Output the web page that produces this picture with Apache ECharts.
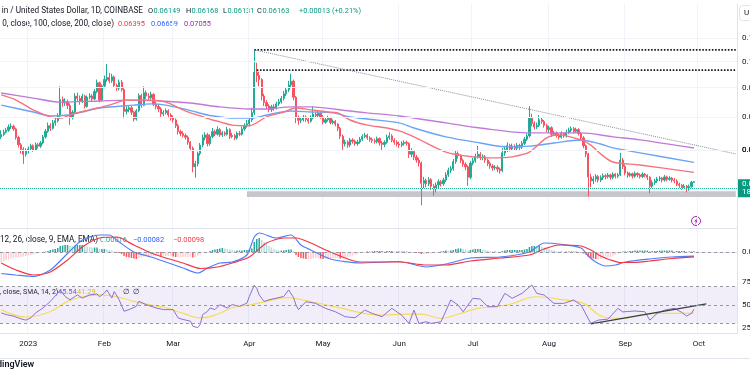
<!DOCTYPE html>
<html>
<head>
<meta charset="utf-8">
<script src="https://cdn.jsdelivr.net/npm/echarts@6/dist/echarts.min.js"></script>
<style>
html, body { margin: 0; padding: 0; background: #fff; }
#chart { width: 750px; height: 375px; }
</style>
</head>
<body>
<div id="chart"></div>
<script>
// daily candles, 21 Dec 2022 .. 29 Sep 2023 (open = previous close)
const firstOpen = 0.0738
const closes = [
  0.0745,0.0752,0.0758,0.0768,0.0770,0.0762,0.0736,0.0715,0.0702,0.0688,0.0698,
  0.0703,0.0712,0.0700,0.0715,0.0711,0.0720,0.0738,0.0755,0.0772,0.0764,0.0781,0.0788,0.0803,0.0858,0.0846,0.0850,0.0838,0.0798,0.0815,0.0870,0.0862,0.0852,0.0870,0.0834,0.0866,0.0870,0.0860,0.0886,0.0918,0.0856,0.0906,
  0.0930,0.0938,0.0925,0.0940,0.0908,0.0898,0.0920,0.0893,0.0818,0.0824,0.0830,0.0815,0.0793,0.0820,0.0872,0.0838,0.0882,0.0870,0.0864,0.0876,0.0842,0.0834,0.0826,0.0810,0.0814,0.0820,0.0806,0.0796,
  0.0790,0.0772,0.0754,0.0748,0.0742,0.0737,0.0722,0.0705,0.0654,0.0662,0.0690,0.0714,0.0736,0.0744,0.0718,0.0739,0.0754,0.0746,0.0760,0.0744,0.0750,0.0746,0.0760,0.0739,0.0742,0.0735,0.0748,0.0746,0.0762,0.0772,0.0778,
  0.0790,0.0814,0.0958,0.0945,0.0930,0.0870,0.0848,0.0836,0.0824,0.0833,0.0829,0.0843,0.0850,0.0862,0.0878,0.0892,0.0910,0.0924,0.0866,0.0798,0.0789,0.0791,0.0799,0.0792,0.0786,0.0796,0.0809,0.0804,0.0812,0.0800,
  0.0783,0.0791,0.0796,0.0782,0.0786,0.0777,0.0764,0.0740,0.0718,0.0723,0.0714,0.0729,0.0725,0.0718,0.0723,0.0731,0.0739,0.0743,0.0735,0.0730,0.0727,0.0724,0.0733,0.0720,0.0716,0.0722,0.0736,0.0741,0.0728,0.0722,0.0717,
  0.0714,0.0719,0.0722,0.0719,0.0688,0.0696,0.0680,0.0672,0.0664,0.0612,0.0619,0.0611,0.0621,0.0605,0.0598,0.0608,0.0616,0.0611,0.0620,0.0633,0.0645,0.0649,0.0668,0.0690,0.0684,0.0671,0.0661,0.0654,0.0627,0.0664,
  0.0670,0.0682,0.0688,0.0679,0.0681,0.0672,0.0663,0.0656,0.0651,0.0653,0.0648,0.0644,0.0692,0.0701,0.0713,0.0703,0.0711,0.0705,0.0713,0.0708,0.0719,0.0731,0.0741,0.0796,0.0779,0.0768,0.0773,0.0791,0.0785,0.0773,0.0760,
  0.0766,0.0746,0.0749,0.0742,0.0737,0.0748,0.0741,0.0752,0.0758,0.0763,0.0755,0.0760,0.0748,0.0735,0.0712,0.0689,0.0628,0.0618,0.0623,0.0629,0.0620,0.0626,0.0631,0.0629,0.0633,0.0627,0.0635,0.0630,0.0633,0.0672,0.0655,
  0.0638,0.0632,0.0636,0.0630,0.0637,0.0633,0.0629,0.0635,0.0632,0.0627,0.0605,0.0614,0.0618,0.0623,0.0625,0.0620,0.0628,0.0622,0.0625,0.0620,0.0618,0.0610,0.0607,0.0602,0.0605,0.0598,0.0604,0.06149,0.06163
]
const highs = [
  0.0758,0.0760,0.0765,0.0776,0.0779,0.0775,0.0766,0.0741,0.0720,0.0708,0.0705,
  0.0710,0.0718,0.0716,0.0722,0.0720,0.0726,0.0744,0.0762,0.0782,0.0780,0.0790,0.0796,0.0812,0.0905,0.0868,0.0862,0.0858,0.0845,0.0822,0.0880,0.0882,0.0872,0.0878,0.0875,0.0872,0.0880,0.0877,0.0895,0.0930,0.0922,0.0912,
  0.0945,0.0990,0.0955,0.0952,0.0945,0.0915,0.0930,0.0928,0.0898,0.0835,0.0838,0.0836,0.0820,0.0826,0.0880,0.0878,0.0905,0.0890,0.0880,0.0885,0.0880,0.0850,0.0842,0.0832,0.0822,0.0828,0.0825,0.0812,
  0.0805,0.0795,0.0778,0.0760,0.0755,0.0748,0.0742,0.0726,0.0710,0.0670,0.0695,0.0720,0.0745,0.0752,0.0750,0.0746,0.0765,0.0760,0.0770,0.0765,0.0756,0.0755,0.0768,0.0764,0.0750,0.0747,0.0754,0.0756,0.0770,0.0780,0.0790,
  0.0800,0.0830,0.1048,0.0995,0.0960,0.0935,0.0878,0.0856,0.0842,0.0840,0.0842,0.0850,0.0860,0.0870,0.0888,0.0900,0.0925,0.0952,0.0930,0.0870,0.0805,0.0800,0.0806,0.0805,0.0798,0.0805,0.0835,0.0818,0.0820,0.0818,
  0.0806,0.0798,0.0804,0.0800,0.0792,0.0790,0.0780,0.0768,0.0745,0.0730,0.0728,0.0735,0.0734,0.0730,0.0729,0.0738,0.0746,0.0750,0.0748,0.0740,0.0736,0.0733,0.0739,0.0736,0.0726,0.0728,0.0745,0.0752,0.0746,0.0734,0.0728,
  0.0724,0.0725,0.0728,0.0727,0.0722,0.0705,0.0700,0.0686,0.0678,0.0668,0.0628,0.0624,0.0628,0.0625,0.0610,0.0614,0.0622,0.0620,0.0626,0.0640,0.0652,0.0656,0.0675,0.0700,0.0696,0.0688,0.0676,0.0666,0.0658,0.0670,
  0.0678,0.0690,0.0712,0.0694,0.0688,0.0686,0.0676,0.0668,0.0661,0.0659,0.0658,0.0652,0.0706,0.0712,0.0722,0.0718,0.0718,0.0716,0.0720,0.0718,0.0726,0.0738,0.0748,0.0835,0.0810,0.0786,0.0782,0.0806,0.0798,0.0790,0.0778,
  0.0772,0.0770,0.0756,0.0754,0.0748,0.0755,0.0752,0.0760,0.0766,0.0770,0.0768,0.0766,0.0764,0.0752,0.0740,0.0716,0.0692,0.0636,0.0630,0.0635,0.0633,0.0632,0.0637,0.0635,0.0638,0.0636,0.0640,0.0638,0.0638,0.0692,0.0678,
  0.0660,0.0642,0.0640,0.0639,0.0642,0.0640,0.0637,0.0640,0.0638,0.0635,0.0630,0.0620,0.0623,0.0628,0.0630,0.0628,0.0633,0.0631,0.0630,0.0628,0.0625,0.0622,0.0614,0.0611,0.0610,0.0608,0.0609,0.0618,0.06168
]
const lows = [
  0.0732,0.0740,0.0748,0.0753,0.0762,0.0756,0.0730,0.0707,0.0690,0.0662,0.0682,
  0.0690,0.0698,0.0695,0.0697,0.0704,0.0706,0.0716,0.0733,0.0750,0.0756,0.0760,0.0772,0.0782,0.0800,0.0832,0.0836,0.0826,0.0775,0.0792,0.0810,0.0852,0.0840,0.0846,0.0828,0.0830,0.0858,0.0852,0.0856,0.0880,0.0848,0.0850,
  0.0898,0.0922,0.0916,0.0918,0.0900,0.0888,0.0890,0.0886,0.0795,0.0808,0.0815,0.0806,0.0785,0.0788,0.0815,0.0830,0.0835,0.0860,0.0855,0.0858,0.0835,0.0825,0.0815,0.0800,0.0802,0.0808,0.0798,0.0788,
  0.0782,0.0765,0.0745,0.0740,0.0736,0.0730,0.0715,0.0698,0.0640,0.0626,0.0655,0.0684,0.0708,0.0728,0.0710,0.0712,0.0734,0.0740,0.0742,0.0738,0.0738,0.0740,0.0742,0.0732,0.0734,0.0728,0.0730,0.0740,0.0742,0.0756,0.0766,
  0.0770,0.0784,0.0806,0.0920,0.0905,0.0855,0.0836,0.0825,0.0815,0.0816,0.0820,0.0824,0.0836,0.0844,0.0855,0.0870,0.0884,0.0902,0.0855,0.0780,0.0775,0.0780,0.0785,0.0784,0.0778,0.0782,0.0792,0.0796,0.0798,0.0794,
  0.0776,0.0778,0.0785,0.0776,0.0776,0.0770,0.0755,0.0732,0.0700,0.0710,0.0706,0.0708,0.0718,0.0712,0.0712,0.0718,0.0726,0.0734,0.0729,0.0724,0.0720,0.0718,0.0719,0.0712,0.0700,0.0708,0.0718,0.0730,0.0722,0.0715,0.0710,
  0.0706,0.0708,0.0712,0.0712,0.0678,0.0680,0.0672,0.0665,0.0655,0.0560,0.0600,0.0602,0.0605,0.0596,0.0582,0.0590,0.0600,0.0604,0.0606,0.0615,0.0628,0.0638,0.0644,0.0662,0.0676,0.0664,0.0654,0.0645,0.0606,0.0622,
  0.0658,0.0665,0.0676,0.0672,0.0672,0.0665,0.0656,0.0649,0.0644,0.0645,0.0640,0.0636,0.0640,0.0684,0.0694,0.0696,0.0698,0.0698,0.0700,0.0700,0.0703,0.0714,0.0726,0.0736,0.0770,0.0760,0.0762,0.0768,0.0778,0.0766,0.0752,
  0.0750,0.0738,0.0740,0.0736,0.0730,0.0733,0.0735,0.0736,0.0746,0.0752,0.0748,0.0750,0.0742,0.0728,0.0705,0.0680,0.0580,0.0602,0.0610,0.0616,0.0614,0.0615,0.0620,0.0622,0.0624,0.0621,0.0622,0.0624,0.0625,0.0630,0.0648,
  0.0632,0.0626,0.0628,0.0624,0.0626,0.0627,0.0624,0.0625,0.0627,0.0620,0.0588,0.0600,0.0608,0.0613,0.0617,0.0614,0.0616,0.0617,0.0618,0.0614,0.0612,0.0605,0.0601,0.0596,0.0598,0.0590,0.0594,0.0601,0.06131
]

// moving averages, [day index, value]
const ma50 = [[0,0.0874],[6,0.0856],[13,0.0823],[20,0.0800],[24,0.0796],[29,0.0809],[36,0.0823],[44,0.0839],[51,0.0856],[61,0.0856],[67,0.0849],[76,0.0816],[81,0.0803],[86,0.0790],[89,0.0784],[94,0.0774],[101,0.0772],[108,0.0800],[115,0.0816],[120,0.0829],[126,0.0823],[133,0.0816],[137,0.0813],[142,0.0790],[149,0.0774],[157,0.0765],[162,0.0756],[168,0.0738],[181,0.0694],[192,0.0681],[202,0.0678],[208,0.0681],[215,0.0694],[222,0.0735],[227,0.0744],[236,0.0729],[240,0.0714],[244,0.0689],[249,0.0667],[260,0.0659],[282,0.06395]]
const ma100 = [[0,0.0839],[13,0.0816],[20,0.0803],[27,0.0806],[33,0.0816],[40,0.0829],[54,0.0839],[61,0.0843],[67,0.0839],[76,0.0823],[84,0.0806],[89,0.0800],[94,0.0796],[102,0.0796],[108,0.0806],[118,0.0819],[126,0.0816],[135,0.0813],[142,0.0800],[149,0.0793],[162,0.0781],[168,0.0765],[181,0.0738],[195,0.0720],[206,0.0709],[215,0.0711],[225,0.0720],[236,0.0729],[244,0.0717],[249,0.0706],[260,0.0692],[282,0.06659]]
const ma200 = [[0,0.0881],[13,0.0863],[24,0.0849],[40,0.0853],[51,0.0856],[65,0.0853],[77,0.0846],[89,0.0833],[101,0.0826],[108,0.0826],[118,0.0833],[126,0.0833],[142,0.0819],[149,0.0813],[162,0.0803],[181,0.0781],[195,0.0765],[215,0.0750],[236,0.0750],[249,0.0738],[260,0.0729],[282,0.07055]]

// MACD 12 26 9
const macdLine = [[0,-0.0043],[6,-0.0046],[13,-0.0049],[20,-0.0036],[27,-0.0003],[33,0.0024],[40,0.0034],[44,0.0034],[48,0.0020],[54,0.0000],[61,-0.0010],[67,-0.0020],[74,-0.0032],[80,-0.0042],[84,-0.0032],[89,-0.0022],[94,-0.0020],[100,-0.0006],[103,0.0030],[105,0.0038],[112,0.0028],[118,0.0034],[122,0.0014],[126,0.0004],[134,-0.0014],[146,-0.0022],[162,-0.0019],[173,-0.0030],[181,-0.0024],[191,-0.0012],[203,-0.0010],[215,0.0000],[221,0.0018],[227,0.0016],[236,0.0008],[239,-0.0008],[242,-0.0020],[246,-0.0028],[250,-0.0026],[254,-0.0020],[264,-0.0014],[273,-0.0010],[282,-0.00082]]
const signalLine = [[0,-0.0022],[6,-0.0036],[13,-0.0046],[20,-0.0040],[27,-0.0016],[33,0.0010],[40,0.0028],[47,0.0030],[54,0.0014],[61,-0.0002],[67,-0.0012],[74,-0.0022],[81,-0.0033],[88,-0.0030],[94,-0.0022],[101,-0.0010],[108,0.0018],[115,0.0028],[120,0.0028],[126,0.0018],[134,0.0000],[146,-0.0020],[162,-0.0020],[173,-0.0026],[181,-0.0026],[191,-0.0018],[203,-0.0012],[215,-0.0006],[221,0.0006],[227,0.0014],[236,0.0012],[240,0.0004],[244,-0.0008],[248,-0.0016],[252,-0.0021],[258,-0.0021],[264,-0.0018],[273,-0.0013],[282,-0.00098]]
const macdHist = [
  -0.0020,-0.0019,-0.0017,-0.0015,-0.0013,-0.0012,-0.0011,-0.0010,-0.0010,-0.0009,-0.0008,
  -0.0007,-0.0006,-0.0005,-0.0004,-0.0002,-0.0001,0.0000,0.0001,0.0002,0.0004,
  0.0005,0.0006,0.0008,0.0012,0.0013,0.0014,0.0014,0.0012,0.0011,0.0013,
  0.0014,0.0014,0.0014,0.0012,0.0011,0.0010,0.0009,0.0009,0.0009,0.0006,0.0006,
  0.0006,0.0005,0.0004,0.0003,0.0001,-0.0001,-0.0002,-0.0004,-0.0008,
  -0.0010,-0.0011,-0.0012,-0.0013,-0.0014,-0.0012,-0.0011,-0.0009,-0.0008,-0.0008,
  -0.0008,-0.0008,-0.0008,-0.0008,-0.0009,-0.0009,-0.0008,-0.0008,-0.0008,
  -0.0009,-0.0010,-0.0010,-0.0010,-0.0010,-0.0010,-0.0010,-0.0010,-0.0011,-0.0010,-0.0008,
  -0.0005,-0.0002,0.0000,0.0000,0.0002,0.0004,0.0005,0.0006,0.0007,0.0008,
  0.0007,0.0006,0.0005,0.0004,0.0003,0.0003,0.0003,0.0003,0.0004,0.0004,
  0.0005,0.0007,0.0020,0.0026,0.0028,0.0024,0.0020,0.0016,0.0012,0.0009,
  0.0006,0.0004,0.0003,0.0003,0.0003,0.0004,0.0005,0.0005,0.0002,-0.0006,
  -0.0010,-0.0012,-0.0013,-0.0014,-0.0014,-0.0014,-0.0013,-0.0012,-0.0012,-0.0013,
  -0.0014,-0.0014,-0.0013,-0.0013,-0.0012,-0.0012,-0.0012,-0.0013,-0.0013,-0.0012,-0.0011,
  -0.0009,-0.0007,-0.0005,-0.0004,-0.0002,-0.0001,0.0000,0.0001,0.0001,0.0001,
  0.0002,0.0002,0.0002,0.0002,0.0001,0.0002,0.0002,0.0002,0.0001,0.0001,
  0.0001,0.0001,0.0001,0.0001,0.0000,0.0000,-0.0001,-0.0001,-0.0002,-0.0004,
  -0.0004,-0.0004,-0.0003,-0.0003,-0.0002,-0.0001,0.0000,0.0001,0.0002,0.0003,
  0.0002,0.0003,0.0004,0.0006,0.0007,0.0007,0.0006,0.0005,0.0003,0.0004,
  0.0005,0.0006,0.0006,0.0006,0.0005,0.0004,0.0003,0.0002,0.0001,0.0001,0.0000,
  0.0000,0.0002,0.0003,0.0004,0.0004,0.0004,0.0004,0.0004,0.0004,0.0004,
  0.0005,0.0006,0.0010,0.0012,0.0012,0.0011,0.0012,0.0011,0.0009,0.0007,
  0.0006,0.0004,0.0003,0.0002,0.0001,0.0001,0.0000,0.0001,0.0001,0.0001,0.0001,
  0.0001,0.0000,-0.0001,-0.0003,-0.0005,-0.0010,-0.0012,-0.0013,-0.0014,-0.0014,
  -0.0014,-0.0013,-0.0012,-0.0011,-0.0010,-0.0008,-0.0006,-0.0004,0.0000,0.0001,
  0.0001,0.0001,0.0002,0.0002,0.0003,0.0003,0.0003,0.0003,0.0003,0.0003,
  0.0002,0.0002,0.0002,0.0002,0.0003,0.0003,0.0003,0.0003,0.0003,0.0003,
  0.0002,0.0002,0.0002,0.0002,0.0002,0.0001,0.0001,0.0001,0.00016
]

// RSI 14 and its SMA 14
const rsi = [[0,41.4],[2,39.6],[5,37.9],[8,35],[10,33.6],[12,36],[14,41.4],[17,46.8],[20,53.9],[23,62.9],[24,66.4],[26,59.3],[28,55.7],[31,61],[33,57.5],[36,61],[39,62],[40,59],[42,63],[43,66.4],[45,57.5],[46,64.6],[48,55.7],[50,43.2],[52,45],[55,48.6],[56,54],[59,50.4],[63,46.8],[66,45],[70,45],[72,36],[74,34.3],[77,32.5],[78,27],[80,25.4],[81,28.9],[82,39.6],[84,43.2],[85,46.8],[87,45],[89,50.4],[92,46.8],[94,50.4],[97,48.6],[100,52],[101,59.3],[103,71.5],[104,68.2],[105,61],[107,53.9],[109,55.7],[112,57.5],[115,59.3],[117,66.4],[119,58],[120,50],[121,45],[124,53.6],[128,51.8],[132,46.4],[136,42.7],[140,37.3],[144,36.2],[148,44.5],[151,40.9],[155,37.3],[159,46.4],[163,39],[166,30],[168,44.5],[170,30],[173,31.8],[175,30],[179,31.8],[183,55.5],[186,50],[188,42.7],[192,57.3],[195,56.5],[198,48.2],[202,48.2],[205,62.7],[208,57.3],[212,62.7],[216,71.8],[218,62.7],[221,60.9],[225,51.8],[229,51.8],[233,55.5],[236,50],[240,30],[243,33.6],[247,34.7],[251,46.4],[253,42.5],[255,43],[258,43.5],[262,42.7],[264,33.6],[267,40.9],[270,44.5],[274,46.4],[277,42],[279,38],[281,41],[282,45.54]]
const rsiSma = [[0,45],[10,37],[20,43],[27,54],[33,59],[40,61],[47,59],[54,54],[61,50],[67,47],[74,41],[81,36],[88,40],[94,47],[101,50],[108,54],[116,58],[122,56],[136,48],[155,39],[165,40],[171,40],[179,35.5],[186,40],[194,46.4],[206,50],[218,59],[229,55.5],[237,51.8],[245,37.3],[253,35.5],[262,40],[272,41],[282,41.29]]
const rsiTrend = [[240,29.5],[287,51.2]]

// drawings on the price pane
const topLevel = 0.1048
const secondLevel = 0.0966
const priceTrend = [[103,0.1048],[299,0.0689]]
const supportBand = [0.0579, 0.0593]
const priceTicks = [0.11, 0.10, 0.09, 0.08, 0.07, 0.065, 0.06, 0.0525]
const monthLabels = ['2023','Feb','Mar','Apr','May','Jun','Jul','Aug','Sep','Oct','Nov','Dec']

const FONT = 'Roboto, "DejaVu Sans", sans-serif'
const UP = '#22ab94'
const DOWN = '#f7525f'

let dates = []
let start = Date.UTC(2022, 11, 21)
for (let i = 0; i < 300; i++) {
    dates.push(new Date(start + i * 86400000).toISOString().slice(0, 10))
}
const lastIdx = dates.length - 1
const isMonthStart = (idx, val) => val.slice(8) === '01'

let candles = closes.map((c, i) => [i === 0 ? firstOpen : closes[i - 1], c, lows[i], highs[i]])

let histData = macdHist.map((v, i) => {
    let prev = i === 0 ? v : macdHist[i - 1]
    let color
    if (v >= 0) color = v >= prev ? '#26a69a' : '#b2dfdb'
    else color = v < prev ? '#ff5252' : '#ffcdd2'
    return { value: v, itemStyle: { color: color } }
})

function xAxisFor(k) {
    return {
        type: 'category', gridIndex: k, data: dates, boundaryGap: true,
        axisTick: { show: false },
        axisLine: { show: true, lineStyle: { color: '#e0e3eb' } },
        axisLabel: {
            show: k === 2, interval: isMonthStart, color: '#131722', fontSize: 8, margin: 7, fontFamily: FONT,
            formatter: v => monthLabels[parseInt(v.slice(5, 7)) - 1]
        },
        splitLine: { show: true, interval: isMonthStart, lineStyle: { color: '#f0f3fa' } }
    }
}
function yAxisBase(k) {
    return {
        gridIndex: k, position: 'right',
        axisLabel: { show: false }, axisTick: { show: false },
        splitLine: { show: false },
        axisLine: { show: true, lineStyle: { color: '#e0e3eb' } }
    }
}
// words are right-aligned to where they end in the picture, values left-aligned
function word(xEnd, y, text) {
    return { type: 'text', x: xEnd, y: y, style: { text: text, fill: '#131722', fontSize: 8.2, fontFamily: FONT, align: 'right', verticalAlign: 'middle' } }
}
function val(x, y, text, color, size) {
    return { type: 'text', x: x, y: y, style: { text: text, fill: color || '#131722', fontSize: size || 7.4, fontFamily: FONT, verticalAlign: 'middle' } }
}
const labelStyle = { position: 'end', distance: 5, color: '#131722', fontSize: 8, fontFamily: FONT }
const hidden = { color: 'rgba(0,0,0,0)', width: 0 }

let option = {
    animation: false,
    backgroundColor: '#fff',
    grid: [
        { left: 0, right: 13, top: 4, height: 224 },
        { left: 0, right: 13, top: 229, height: 51 },
        { left: 0, right: 13, top: 281, height: 52 }
    ],
    xAxis: [xAxisFor(0), xAxisFor(1), xAxisFor(2)],
    yAxis: [
        Object.assign(yAxisBase(0), { type: 'log', min: 0.05111, max: 0.12611 }),
        Object.assign(yAxisBase(1), { type: 'value', min: -0.0056, max: 0.0046 }),
        Object.assign(yAxisBase(2), { type: 'value', min: 19.6, max: 76.1 })
    ],
    series: [
        {
            name: 'priceGrid', type: 'line', data: [], z: 1,
            markLine: {
                silent: true, symbol: ['none', 'none'],
                lineStyle: { color: '#f0f3fa', width: 1, type: 'solid' },
                label: labelStyle,
                data: priceTicks.map(v => ({ yAxis: v, label: { formatter: v.toFixed(5) } }))
            }
        },
        {
            name: 'candles', type: 'candlestick', data: candles, barWidth: 1.7, z: 2,
            itemStyle: { color: UP, color0: DOWN, borderColor: UP, borderColor0: DOWN, borderWidth: 1 }
        },
        { name: 'MA200', type: 'line', data: ma200, smooth: 0.3, showSymbol: false, z: 3, lineStyle: { color: '#c27ad8', width: 1.4 } },
        { name: 'MA100', type: 'line', data: ma100, smooth: 0.3, showSymbol: false, z: 3, lineStyle: { color: '#6ba3f7', width: 1.4 } },
        { name: 'MA50', type: 'line', data: ma50, smooth: 0.3, showSymbol: false, z: 3, lineStyle: { color: '#f6737d', width: 1.4 } },
        {
            name: 'top', type: 'line', data: [[103, topLevel], [lastIdx, topLevel]], showSymbol: false, z: 4,
            lineStyle: { color: '#131722', width: 1.6, type: 'dotted' }
        },
        {
            name: 'second', type: 'line', data: [[104, secondLevel], [lastIdx, secondLevel]], showSymbol: false, z: 4,
            lineStyle: { color: '#131722', width: 1.6, type: 'dotted' }
        },
        {
            name: 'trend', type: 'line', data: priceTrend, showSymbol: false, z: 4,
            lineStyle: { color: '#8a8d96', width: 1, type: 'dotted' }
        },
        {
            name: 'band', type: 'line', data: [], z: 5,
            markArea: {
                silent: true, itemStyle: { color: '#c6c7cc' },
                data: [[{ xAxis: 100, yAxis: supportBand[1] }, { xAxis: lastIdx, yAxis: supportBand[0] }]]
            }
        },
        {
            name: 'lastPrice', type: 'line', data: [], z: 6,
            markLine: {
                silent: true, symbol: ['none', 'none'],
                lineStyle: { color: '#22ab94', width: 1, type: 'dotted' },
                label: {
                    position: 'end', distance: 1, backgroundColor: '#089981', color: '#fff',
                    fontSize: 8, lineHeight: 8.5, padding: [1, 4, 0, 4], fontFamily: FONT
                },
                data: [{ yAxis: closes[closes.length - 1], label: { formatter: closes[closes.length - 1].toFixed(5) + '\n18' } }]
            }
        },
        // MACD pane
        {
            name: 'macdScale', type: 'line', data: [], xAxisIndex: 1, yAxisIndex: 1, z: 1,
            markLine: {
                silent: true, symbol: ['none', 'none'],
                lineStyle: { color: '#9598a1', width: 1, type: [3, 3] },
                label: labelStyle,
                data: [
                    { yAxis: 0, label: { formatter: '0.00000' } },
                    { yAxis: -0.005, lineStyle: hidden, label: { formatter: '\u22120.00500' } }
                ]
            }
        },
        { name: 'hist', type: 'bar', data: histData, xAxisIndex: 1, yAxisIndex: 1, barWidth: 1.5, z: 2 },
        { name: 'macd', type: 'line', data: macdLine, xAxisIndex: 1, yAxisIndex: 1, smooth: 0.25, showSymbol: false, z: 3, lineStyle: { color: '#4f7ff7', width: 1.2 } },
        { name: 'signal', type: 'line', data: signalLine, xAxisIndex: 1, yAxisIndex: 1, smooth: 0.25, showSymbol: false, z: 3, lineStyle: { color: '#f23645', width: 1.2 } },
        // RSI pane
        {
            name: 'rsiScale', type: 'line', data: [], xAxisIndex: 2, yAxisIndex: 2, z: 1,
            markArea: { silent: true, itemStyle: { color: 'rgba(126,87,194,0.1)' }, data: [[{ yAxis: 30 }, { yAxis: 70 }]] },
            markLine: {
                silent: true, symbol: ['none', 'none'],
                lineStyle: { color: '#9598a1', width: 1, type: [3, 3] },
                label: Object.assign({}, labelStyle, { show: false }),
                data: [
                    { yAxis: 70 },
                    { yAxis: 50, label: { show: true, formatter: '50' } },
                    { yAxis: 30 },
                    { yAxis: 75, lineStyle: hidden, label: { show: true, formatter: '75' } },
                    { yAxis: 25, lineStyle: hidden, label: { show: true, formatter: '25' } }
                ]
            }
        },
        { name: 'rsiSma', type: 'line', data: rsiSma, xAxisIndex: 2, yAxisIndex: 2, smooth: 0.4, showSymbol: false, z: 2, lineStyle: { color: '#f5dc5a', width: 1.2 } },
        { name: 'rsi', type: 'line', data: rsi, xAxisIndex: 2, yAxisIndex: 2, showSymbol: false, z: 3, lineStyle: { color: '#8f6fd0', width: 1 } },
        { name: 'rsiTrend', type: 'line', data: rsiTrend, xAxisIndex: 2, yAxisIndex: 2, showSymbol: false, z: 4, lineStyle: { color: '#3a3e48', width: 1.3 } }
    ],
    graphic: [
        word(143, 11, 'in / United States Dollar, 1D, COINBASE'),
        val(148, 11, 'O'), val(153.5, 11, '0.06149', '#089981'),
        val(186, 11, 'H'), val(191.5, 11, '0.06168', '#089981'),
        val(223, 11, 'L'), val(227.5, 11, '0.06131', '#089981'),
        val(257, 11, 'C'), val(262.5, 11, '0.06163', '#089981'),
        val(299, 11, '+0.00013 (+0.21%)', '#089981'),
        word(114, 24, '0, close, 100, close, 200, close)'),
        val(118, 24, '0.06395', '#f23645'),
        val(151, 24, '0.06659', '#2962ff'),
        val(184, 24, '0.07055', '#9c27b0'),
        word(98, 240, '12, 26, close, 9, EMA, EMA)'),
        val(100, 240, '0.00016', '#26a69a'),
        val(133, 240, '\u22120.00082', '#2962ff'),
        val(173, 240, '\u22120.00098', '#f23645'),
        val(0, 292, ', close, SMA, 14, 2)', '#131722', 7),
        val(58, 292, '45.54', '#7e57c2'),
        val(77, 292, '41.29', '#e8c51c'),
        { type: 'text', x: 123, y: 292, style: { text: '\u2205', fill: '#131722', fontSize: 7.5, fontFamily: '"DejaVu Sans", sans-serif', verticalAlign: 'middle' } },
        { type: 'text', x: 133, y: 292, style: { text: '\u2205', fill: '#131722', fontSize: 7.5, fontFamily: '"DejaVu Sans", sans-serif', verticalAlign: 'middle' } },
        { type: 'line', shape: { x1: 0, y1: 358.5, x2: 750, y2: 358.5 }, style: { stroke: '#e0e3eb', lineWidth: 1 } },
        { type: 'text', x: -3, y: 365, style: { text: 'dingView', fill: '#131722', fontSize: 9, fontWeight: 600, fontFamily: FONT, verticalAlign: 'middle' } },
        { type: 'rect', shape: { x: 739.5, y: 5.5, width: 16, height: 15, r: 3 }, style: { fill: '#fff', stroke: '#e0e3eb', lineWidth: 1 } },
        { type: 'text', x: 744, y: 13, style: { text: 'U', fill: '#131722', fontSize: 8, fontFamily: FONT, verticalAlign: 'middle' } },
        { type: 'circle', shape: { cx: 696, cy: 221, r: 4.5 }, style: { fill: '#fff', stroke: '#9c27b0', lineWidth: 1 } },
        { type: 'polygon', shape: { points: [[697.3, 217.8], [694.2, 221.6], [696, 221.6], [695, 224.4], [698, 220.5], [696.2, 220.5]] }, style: { fill: '#9c27b0' } }
    ]
}

let myChart = echarts.init(document.getElementById('chart'))
myChart.setOption(option)
</script>
</body>
</html>
